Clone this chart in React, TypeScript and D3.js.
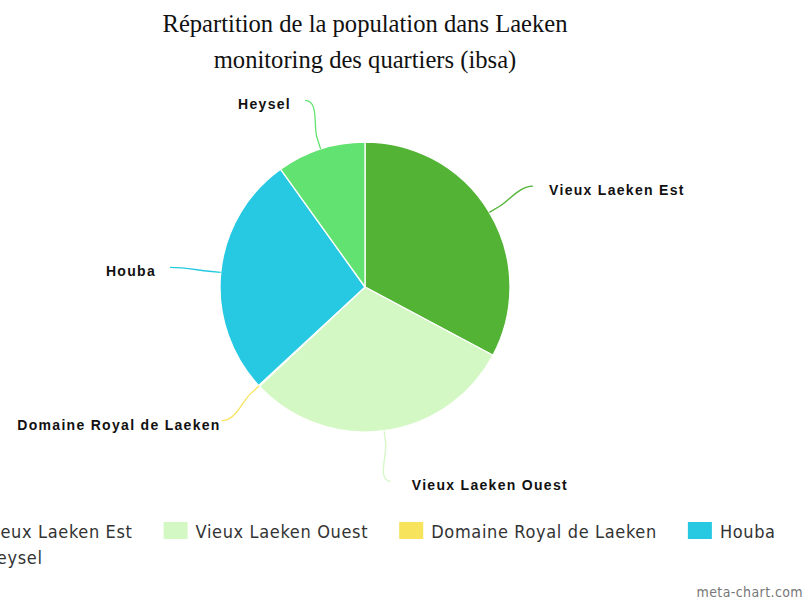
import React, { useRef, useEffect } from "react";
import * as d3 from "d3";

const categories = [
  "Vieux Laeken Est",
  "Vieux Laeken Ouest",
  "Domaine Royal de Laeken",
  "Houba",
  "Heysel",
];
const values = [32.8, 30.2, 0.1, 27.0, 9.9];
const colors = ["#52b335", "#d4f8c4", "#f7e35c", "#27c9e2", "#62e371"];
const titleLines = [
  "Répartition de la population dans Laeken",
  "monitoring des quartiers (ibsa)",
];
const credit = "meta-chart.com";
const labelGaps = [16, 21, 1, 14, 14];

export default function App() {
  const ref = useRef<SVGSVGElement>(null);
  useEffect(() => {
    const svg = d3.select(ref.current);
    svg.selectAll("*").remove();
    const W = 805;
    const cx = 365,
      cy = 287,
      r = 145;

    svg
      .append("rect")
      .attr("width", W)
      .attr("height", 601)
      .attr("fill", "#fff");

    svg
      .append("g")
      .selectAll("text")
      .data(titleLines)
      .join("text")
      .attr("x", 365)
      .attr("y", (d, i) => 32 + i * 36)
      .attr("text-anchor", "middle")
      .attr("font-family", "'Liberation Serif', 'Times New Roman', serif")
      .attr("font-size", 24.6)
      .attr("fill", "#111")
      .text((d) => d);

    const pie = d3
      .pie<number>()
      .sort(null)
      .value((d) => d);
    const arcs = pie(values);
    const arc = d3
      .arc<d3.PieArcDatum<number>>()
      .innerRadius(0)
      .outerRadius(r);
    const g = svg.append("g").attr("transform", `translate(${cx},${cy})`);
    g.selectAll("path.slice")
      .data(arcs)
      .join("path")
      .attr("class", "slice")
      .attr("d", arc)
      .attr("fill", (d, i) => colors[i])
      .attr("stroke", "#fff")
      .attr("stroke-width", 1.3)
      .attr("stroke-linejoin", "round");

    const pt = (a: number, rad: number) => [Math.sin(a) * rad, -Math.cos(a) * rad];
    arcs.forEach((d, i) => {
      const mid = (d.startAngle + d.endAngle) / 2;
      const right = Math.sin(mid) > 0;
      const p0 = pt(mid, r);
      const p1 = pt(mid, r + 12);
      const L = pt(mid, 196);
      const c2 = [2 * p1[0] - p0[0], 2 * p1[1] - p0[1]];
      const path = d3.path();
      path.moveTo(L[0], L[1]);
      path.bezierCurveTo(L[0] + (right ? -14 : 14), L[1], c2[0], c2[1], p1[0], p1[1]);
      path.lineTo(p0[0], p0[1]);
      g.append("path")
        .attr("d", path.toString())
        .attr("fill", "none")
        .attr("stroke", colors[i])
        .attr("stroke-width", 1.3);
      g.append("text")
        .attr("x", L[0] + (right ? labelGaps[i] : -labelGaps[i]))
        .attr("y", L[1] + 9)
        .attr("text-anchor", right ? "start" : "end")
        .attr("font-family", "'Liberation Sans', Arial, sans-serif")
        .attr("font-weight", "bold")
        .attr("font-size", 14)
        .attr("letter-spacing", 1.3)
        .attr("fill", "#111")
        .text(categories[i]);
    });

    // legend
    const lg = svg.append("g");
    let x = -48;
    let y = 538;
    const rowH = 26;
    const gap = 31;
    categories.forEach((c, i) => {
      const item = lg.append("g");
      const t = item
        .append("text")
        .attr("x", 32)
        .attr("y", 0)
        .attr("font-family", "'DejaVu Sans', sans-serif")
        .style("font-stretch", "condensed")
        .attr("font-size", 18)
        .attr("letter-spacing", 0.65)
        .attr("fill", "#333")
        .text(c);
      const tw = (t.node() as SVGTextElement).getComputedTextLength();
      const w = 32 + tw;
      if (i > 0 && x + w > W) {
        x = -48;
        y += rowH;
      }
      item.attr("transform", `translate(${x},${y})`);
      item
        .insert("rect", "text")
        .attr("x", 0)
        .attr("y", -16)
        .attr("width", 24)
        .attr("height", 17)
        .attr("fill", colors[i]);
      x += w + gap;
    });

    svg
      .append("text")
      .attr("x", 803)
      .attr("y", 597)
      .attr("text-anchor", "end")
      .attr("font-family", "'DejaVu Sans', sans-serif")
      .style("font-stretch", "condensed")
      .attr("font-size", 14)
      .attr("letter-spacing", 0.4)
      .attr("fill", "#777")
      .text(credit);
  }, []);

  return (
    <svg
      ref={ref}
      width={805}
      height={601}
      style={{ position: "absolute", left: 0, top: 0, display: "block" }}
    />
  );
}
